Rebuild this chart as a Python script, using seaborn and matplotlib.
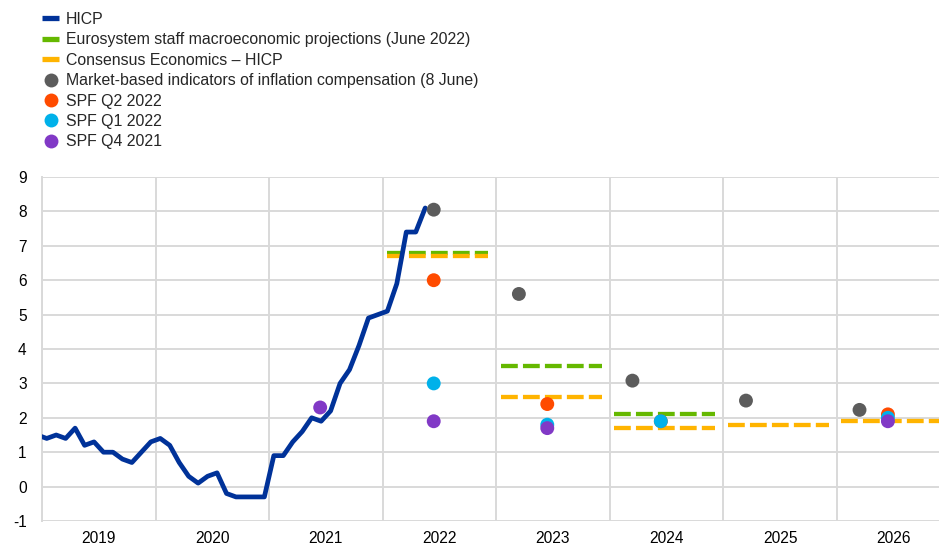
import numpy as np
import pandas as pd
import matplotlib
matplotlib.use("Agg")
import matplotlib.pyplot as plt
import seaborn as sns
from matplotlib.lines import Line2D

# ---------------- data ----------------
# HICP monthly, Dec 2018 .. May 2022 (annual % change)
hicp_start = (2018, 12)
hicp_values = [1.5,
               1.4, 1.5, 1.4, 1.7, 1.2, 1.3, 1.0, 1.0, 0.8, 0.7, 1.0, 1.3,
               1.4, 1.2, 0.7, 0.3, 0.1, 0.3, 0.4, -0.2, -0.3, -0.3, -0.3, -0.3,
               0.9, 0.9, 1.3, 1.6, 2.0, 1.9, 2.2, 3.0, 3.4, 4.1, 4.9, 5.0,
               5.1, 5.9, 7.4, 7.4, 8.1]

proj_years = [2022, 2023, 2024]
proj_values = [6.8, 3.5, 2.1]

cons_years = [2022, 2023, 2024, 2025, 2026]
cons_values = [6.7, 2.6, 1.7, 1.8, 1.9]

mkt_dates = [2022.45, 2023.2, 2024.2, 2025.2, 2026.2]
mkt_values = [8.05, 5.6, 3.08, 2.5, 2.23]

spf_q2_22_dates = [2022.45, 2023.45, 2024.45, 2026.45]
spf_q2_22_values = [6.0, 2.4, 1.9, 2.1]

spf_q1_22_dates = [2022.45, 2023.45, 2024.45, 2026.45]
spf_q1_22_values = [3.0, 1.8, 1.9, 2.0]

spf_q4_21_dates = [2021.45, 2022.45, 2023.45, 2026.45]
spf_q4_21_values = [2.3, 1.9, 1.7, 1.9]

year_labels = ["2019", "2020", "2021", "2022", "2023", "2024", "2025", "2026"]
y_ticks = [-1, 0, 1, 2, 3, 4, 5, 6, 7, 8, 9]

# ---------------- style ----------------
sns.set_theme(style="white")
plt.rcParams["font.family"] = ["Liberation Sans", "DejaVu Sans"]

C_HICP = "#003299"
C_PROJ = "#65b800"
C_CONS = "#ffb400"
C_MKT = "#5c5c5c"
C_Q2 = "#ff4b00"
C_Q1 = "#00b1ea"
C_Q4 = "#8139c6"
GRID = "#d9d9d9"

fig = plt.figure(figsize=(9.39, 5.47), dpi=100)
ax = fig.add_axes([42 / 939, 26 / 547, 1 - 42 / 939, (521 - 177) / 547])

# HICP line (month centres)
n = len(hicp_values)
months = np.arange(n)
hicp_x = hicp_start[0] + (hicp_start[1] - 1 + months + 0.5) / 12.0
hicp_df = pd.DataFrame({"date": hicp_x, "value": hicp_values})
sns.lineplot(data=hicp_df, x="date", y="value", ax=ax, color=C_HICP,
             linewidth=3.4, zorder=3)

# horizontal annual dashed lines
def year_segments(years, values, color, z):
    for yr, v in zip(years, values):
        seg = pd.DataFrame({"date": [yr + 0.04, yr + 0.93], "value": [v, v]})
        sns.lineplot(data=seg, x="date", y="value", ax=ax, color=color,
                     linewidth=3.1, zorder=z)
        ln = ax.lines[-1]
        ln.set_dashes((3.9, 1.2))
        ln.set_dash_capstyle("butt")

year_segments(proj_years, proj_values, C_PROJ, 2)
year_segments(cons_years, cons_values, C_CONS, 2.1)

# dots
def dots(dates, values, color, z):
    sns.scatterplot(x=dates, y=values, ax=ax, color=color, s=100,
                    edgecolor="none", linewidth=0, zorder=z)

dots(mkt_dates, mkt_values, C_MKT, 4)
dots(spf_q2_22_dates, spf_q2_22_values, C_Q2, 4.1)
dots(spf_q1_22_dates, spf_q1_22_values, C_Q1, 4.2)
dots(spf_q4_21_dates, spf_q4_21_values, C_Q4, 4.3)

# axes
ax.set_yticks(y_ticks)
ax.set_yticklabels([str(t) for t in y_ticks])
ax.set_xticks([int(y) for y in year_labels])
ax.set_xticklabels([""] * len(year_labels))
ax.set_xticks([int(y) + 0.5 for y in year_labels], minor=True)
ax.set_xticklabels(year_labels, minor=True)
ax.set_xlim(2019.0, 2026.9)
ax.set_ylim(-1, 9)
ax.tick_params(axis="x", which="both", length=0, pad=7.5, labelsize=11.2, colors="black")
ax.tick_params(axis="y", length=0, pad=11, labelsize=11.2, colors="black")
ax.grid(True, which="major", color=GRID, linewidth=1.4)
ax.set_axisbelow(True)
ax.set_xlabel("")
ax.set_ylabel("")
for side in ["top", "right", "bottom"]:
    ax.spines[side].set_visible(False)
ax.spines["left"].set_color(GRID)
ax.spines["left"].set_linewidth(1.4)

# legend
def line_handle(c):
    return Line2D([0], [0], color=c, lw=3.8, solid_capstyle="butt")

def dot_handle(c):
    return Line2D([0], [0], marker="o", color="none", markerfacecolor=c,
                  markeredgecolor="none", markersize=10)

handles = [line_handle(C_HICP), line_handle(C_PROJ), line_handle(C_CONS),
           dot_handle(C_MKT), dot_handle(C_Q2), dot_handle(C_Q1), dot_handle(C_Q4)]
labels = [
    "HICP",
    "Eurosystem staff macroeconomic projections (June 2022)",
    "Consensus Economics \u2013 HICP",
    "Market-based indicators of inflation compensation (8 June)",
    "SPF Q2 2022",
    "SPF Q1 2022",
    "SPF Q4 2021",
]
fig.legend(handles, labels, loc="upper left", bbox_to_anchor=(42 / 939, 1 - 12 / 547),
           frameon=False, fontsize=11.4, handlelength=1.08, handletextpad=0.45,
           labelspacing=0.34, borderpad=0, borderaxespad=0)

fig.savefig("out.png", dpi=100)
